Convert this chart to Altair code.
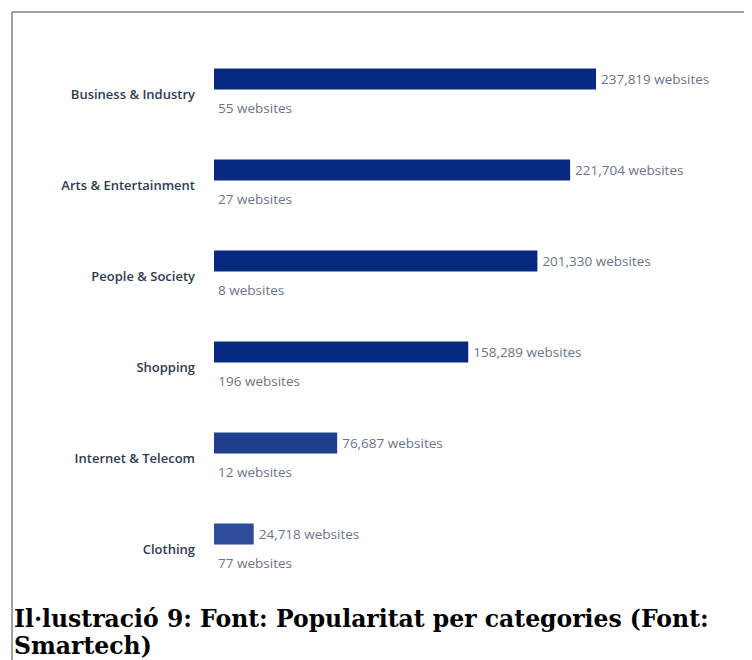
import altair as alt
import pandas as pd

categories = ["Business & Industry", "Arts & Entertainment", "People & Society",
              "Shopping", "Internet & Telecom", "Clothing"]
websites = [237819, 221704, 201330, 158289, 76687, 24718]
second_websites = [55, 27, 8, 196, 12, 77]
bar_colors = ["#062a80", "#062a80", "#062a80", "#062a80", "#1f3e8f", "#2e4c99"]
caption_lines = ["Il·lustració 9: Font: Popularitat per categories (Font:", "Smartech)"]

df = pd.DataFrame({"category": categories, "value": websites, "second": second_websites})
df["label"] = df["value"].map(lambda v: f"{v:,} websites")
df["label2"] = df["second"].map(lambda v: f"{v:,} websites")

xscale = alt.Scale(domain=[0, max(websites)], range=[206, 588], nice=False, zero=True)
yenc = alt.Y("category:N", sort=categories,
             scale=alt.Scale(range=[41.5, 587.5], paddingInner=0, paddingOuter=0),
             axis=None)

base = alt.Chart(df)

bars = base.mark_bar(size=21, yOffset=-16).encode(
    x=alt.X("value:Q", scale=xscale, axis=None),
    y=yenc,
    color=alt.Color("category:N", scale=alt.Scale(domain=categories, range=bar_colors), legend=None),
)

vlabels = base.mark_text(align="left", baseline="middle", dx=5, yOffset=-15,
                         font="Open Sans", fontSize=13.5, color="#6b7489").encode(
    x=alt.X("value:Q", scale=xscale, axis=None), y=yenc, text="label:N")

slabels = base.mark_text(align="left", baseline="middle", dx=4, yOffset=14,
                         font="Open Sans", fontSize=13.5, color="#6b7489").encode(
    x=alt.X("second:Q", scale=xscale, axis=None), y=yenc, text="label2:N")

clabels = base.mark_text(align="right", baseline="middle", font="Open Sans", fontWeight=600,
                         fontSize=13, color="#2e3b52").encode(
    x=alt.value(187), y=yenc, text="category:N")

one = alt.Data(values=[{}])
top_rule = alt.Chart(one).mark_rule(color="#444444", strokeWidth=1).encode(
    x=alt.value(4), x2=alt.value(740), y=alt.value(4))
left_rule = alt.Chart(one).mark_rule(color="#444444", strokeWidth=1).encode(
    x=alt.value(4), y=alt.value(4), y2=alt.value(652))

caption = alt.Chart(one).mark_text(align="left", baseline="alphabetic", font="DejaVu Serif",
                                   fontWeight="bold", fontSize=23.5, lineHeight=27,
                                   color="#000000").encode(
    x=alt.value(6), y=alt.value(619), text=alt.value(caption_lines))

chart = alt.layer(top_rule, left_rule, bars, vlabels, slabels, clabels, caption).properties(
    width=736, height=652, padding=0, autosize=alt.AutoSizeParams(type="none"),
    background="white"
).configure_view(stroke=None)

chart.save("out.html", embed_options={"renderer": "svg", "actions": False})
